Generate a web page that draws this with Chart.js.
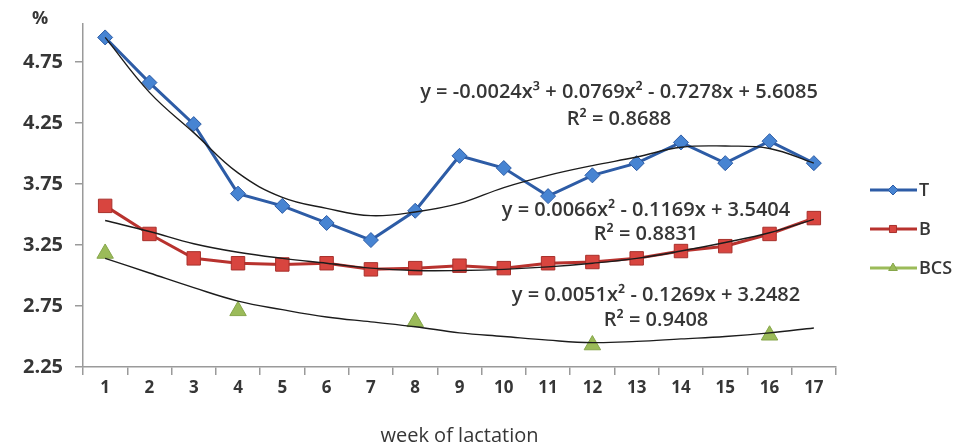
<!DOCTYPE html>
<html><head><meta charset="utf-8">
<script src="https://cdn.jsdelivr.net/npm/chart.js@4/dist/chart.umd.min.js"></script>
<style>html,body{margin:0;padding:0;background:#fff;}#wrap{width:958px;height:448px;position:relative;}</style>
</head><body><div id="wrap"><canvas id="c"></canvas></div>
<script>
const weeks = ['1','2','3','4','5','6','7','8','9','10','11','12','13','14','15','16','17'];
const seriesT = [4.95, 4.58, 4.24, 3.67, 3.57, 3.43, 3.29, 3.53, 3.98, 3.88, 3.65, 3.82, 3.92, 4.09, 3.92, 4.10, 3.92];
const seriesB = [3.57, 3.34, 3.14, 3.10, 3.09, 3.10, 3.05, 3.06, 3.08, 3.06, 3.10, 3.11, 3.14, 3.20, 3.24, 3.34, 3.47];
const seriesBCS = [3.18, null, null, 2.71, null, null, null, 2.62, null, null, null, 2.43, null, null, null, 2.51, null];
const trendT = [4.95, 4.50, 4.17, 3.84, 3.64, 3.55, 3.49, 3.52, 3.59, 3.72, 3.82, 3.90, 3.97, 4.05, 4.06, 4.04, 3.92];
const trendB = [3.45, 3.36, 3.26, 3.19, 3.14, 3.10, 3.06, 3.04, 3.04, 3.05, 3.07, 3.10, 3.14, 3.20, 3.27, 3.35, 3.46];
const trendBCS = [3.14, 3.02, 2.90, 2.79, 2.72, 2.66, 2.62, 2.58, 2.53, 2.50, 2.47, 2.45, 2.46, 2.48, 2.50, 2.53, 2.57];
const yTicks = [2.25, 2.75, 3.25, 3.75, 4.25, 4.75];
const eqT = ['y = -0.0024x³ + 0.0769x² - 0.7278x + 5.6085', 'R² = 0.8688'];
const eqB = ['y = 0.0066x² - 0.1169x + 3.5404', 'R² = 0.8831'];
const eqBCS = ['y = 0.0051x² - 0.1269x + 3.2482', 'R² = 0.9408'];

const FONT = "'Open Sans', 'Liberation Sans', sans-serif";
const TXT = '#363636';
const AXIS = '#9a9a9a';

function drawMarker(ctx, style, x, y, r, fill, stroke) {
  ctx.save();
  ctx.fillStyle = fill; ctx.strokeStyle = stroke; ctx.lineWidth = 1;
  ctx.beginPath();
  if (style === 'rectRot') {
    ctx.moveTo(x, y - r); ctx.lineTo(x + r, y); ctx.lineTo(x, y + r); ctx.lineTo(x - r, y); ctx.closePath();
  } else if (style === 'rect') {
    const s = r * Math.SQRT1_2; ctx.rect(x - s, y - s, 2 * s, 2 * s);
  } else {
    ctx.moveTo(x, y - r); ctx.lineTo(x + r * 0.866, y + r / 2); ctx.lineTo(x - r * 0.866, y + r / 2); ctx.closePath();
  }
  ctx.fill(); ctx.stroke();
  ctx.restore();
}

const annotPlugin = {
  id: 'annot',
  afterDraw(chart) {
    const ctx = chart.ctx;
    ctx.save();
    ctx.fillStyle = TXT;
    ctx.textAlign = 'center';
    ctx.textBaseline = 'middle';
    ctx.font = '600 20px ' + FONT;
    const blocks = [[eqT, 619, 92, 119], [eqB, 646, 210, 234], [eqBCS, 656, 295, 320]];
    blocks.forEach(([lines, x, y1, y2]) => {
      ctx.fillText(lines[0], x, y1);
      ctx.fillText(lines[1], x, y2);
    });
    // y-axis unit label
    ctx.font = 'bold 18px ' + FONT;
    ctx.fillText('%', 40, 19);
    // legend
    const items = chart.data.datasets.filter(d => d.inLegend);
    const ys = [190, 229, 268];
    ctx.textAlign = 'left';
    ctx.font = '600 18px ' + FONT;
    items.forEach((d, i) => {
      const y = ys[i];
      ctx.strokeStyle = d.borderColor; ctx.lineWidth = 3;
      ctx.beginPath(); ctx.moveTo(870, y); ctx.lineTo(917, y); ctx.stroke();
      drawMarker(ctx, d.pointStyle, 893, y, 5, d.pointBackgroundColor, d.pointBorderColor);
      ctx.fillStyle = TXT;
      ctx.fillText(d.label, 919, y + 1);
    });
    ctx.restore();
  }
};

const bgPlugin = {
  id: 'bg',
  beforeDraw(chart) {
    const ctx = chart.ctx; ctx.save(); ctx.fillStyle = '#ffffff';
    ctx.fillRect(0, 0, chart.width, chart.height); ctx.restore();
  }
};

const trendStyle = { borderColor: '#1c1c1c', borderWidth: 1.4, pointRadius: 0, tension: 0.4, fill: false, order: 0 };

new Chart(document.getElementById('c'), {
  type: 'line',
  data: {
    labels: weeks,
    datasets: [
      Object.assign({ label: 'trend T', data: trendT }, trendStyle),
      Object.assign({ label: 'trend B', data: trendB }, trendStyle),
      Object.assign({ label: 'trend BCS', data: trendBCS }, trendStyle),
      { label: 'T', data: seriesT, inLegend: true, order: 1,
        borderColor: '#2d5ca6', borderWidth: 3, tension: 0,
        pointStyle: 'rectRot', pointRadius: 7.5, pointBackgroundColor: '#4784d2', pointBorderColor: '#2d5ca6', pointBorderWidth: 1 },
      { label: 'B', data: seriesB, inLegend: true, order: 1,
        borderColor: '#b8322e', borderWidth: 3, tension: 0,
        pointStyle: 'rect', pointRadius: 9.5, pointBackgroundColor: '#d8453f', pointBorderColor: '#a8302b', pointBorderWidth: 1 },
      { label: 'BCS', data: seriesBCS, inLegend: true, order: 1, showLine: false,
        borderColor: '#9bbb59', borderWidth: 3,
        pointStyle: 'triangle', pointRadius: 9.5, pointBackgroundColor: '#9bbb59', pointBorderColor: '#86a64a', pointBorderWidth: 1 }
    ]
  },
  options: {
    responsive: true,
    maintainAspectRatio: false,
    animation: false,
    layout: { padding: { left: 0, right: 122, top: 23, bottom: 0 } },
    plugins: { legend: { display: false }, tooltip: { enabled: false } },
    scales: {
      x: {
        type: 'category',
        offset: true,
        grid: { display: true, offset: true, drawOnChartArea: false, tickLength: 8, color: AXIS, lineWidth: 1.5 },
        border: { display: true, color: AXIS, width: 1.5 },
        ticks: { color: TXT, font: { family: FONT, size: 17, weight: 'bold' }, padding: 3, maxRotation: 0, autoSkip: false },
        title: { display: true, text: 'week of lactation', color: TXT, font: { family: FONT, size: 20 }, padding: { top: 0, bottom: 0 } },
        afterFit(s) { s.height = 81; }
      },
      y: {
        min: 2.25,
        max: 5.06,
        afterBuildTicks(s) { s.ticks = yTicks.map(v => ({ value: v })); },
        grid: { display: true, drawOnChartArea: false, tickLength: 8, color: AXIS, lineWidth: 1.5 },
        border: { display: true, color: AXIS, width: 1.5 },
        ticks: { color: TXT, font: { family: FONT, size: 20, weight: 'bold' }, padding: 12, callback: v => Number(v).toFixed(2) },
        afterFit(s) { s.width = 83; }
      }
    }
  },
  plugins: [bgPlugin, annotPlugin]
});
</script>
</body></html>
